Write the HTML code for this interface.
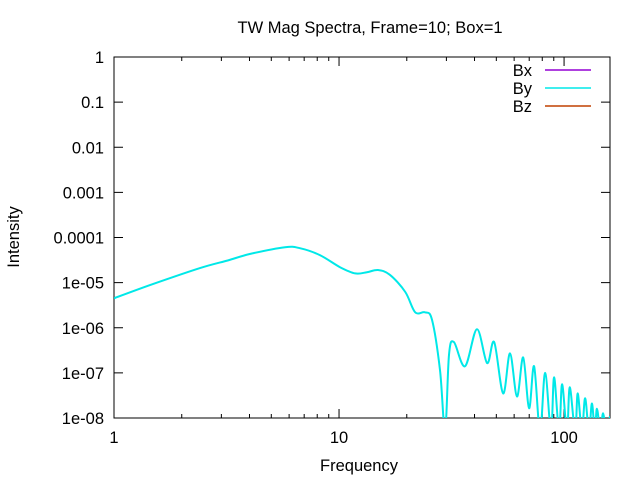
<!DOCTYPE html>
<html><head><meta charset="utf-8"><style>
body{margin:0;background:#fff}
svg text{font-family:"Liberation Sans",sans-serif;font-size:16.5px;fill:#000}
</style></head><body>
<svg id="chart" width="640" height="480" xmlns="http://www.w3.org/2000/svg">
<defs><clipPath id="clip"><rect x="114" y="57" width="496" height="361"/></clipPath></defs>
<text x="370" y="33" text-anchor="middle">TW Mag Spectra, Frame=10; Box=1</text>
<text transform="translate(19,237) rotate(-90)" text-anchor="middle">Intensity</text>
<text x="359" y="471" text-anchor="middle">Frequency</text>
<g id="axes"></g>
<rect x="114" y="57" width="496" height="361" fill="none" stroke="#000" stroke-width="1"/>
<g id="series" clip-path="url(#clip)"></g>
<g>
<text x="532" y="76" text-anchor="end">Bx</text>
<line x1="545" y1="70" x2="591" y2="70" stroke="#9400d3" stroke-width="1.5"/>
<text x="532" y="94" text-anchor="end">By</text>
<line x1="545" y1="88" x2="591" y2="88" stroke="#00e8e8" stroke-width="1.5"/>
<text x="532" y="112" text-anchor="end">Bz</text>
<line x1="545" y1="106" x2="591" y2="106" stroke="#c04000" stroke-width="1.5"/>
</g>
</svg>
<script>
const freq = [1,1.445,2.41,3.2,4.01,5.75,6.7,8.2,10.1,11.8,13.3,14.9,16.8,19.7,21.8,24.1,25.9,28.1,29.6,30.8,32.4,36.3,41.0,45.5,48.9,53.6,57.5,61.8,65.8,69.9,73.6,78.2,82.4,87.5,90.3,95,98,103,106,112,115,120,124,129,133,137,140,145,149,154,160];
const byVals = [4.5e-6,8.8e-6,2.1e-5,3.1e-5,4.3e-5,6.1e-5,5.8e-5,4.1e-5,2.2e-5,1.6e-5,1.7e-5,1.9e-5,1.5e-5,6.2e-6,2.2e-6,2.2e-6,1.5e-6,1.15e-7,5e-9,2.5e-7,4.8e-7,1.4e-7,9.3e-7,1.65e-7,4.8e-7,3.5e-8,2.7e-7,3.0e-8,2.2e-7,1.65e-8,1.4e-7,5e-9,1.0e-7,5e-9,8.0e-8,5e-9,5.6e-8,5e-9,4.8e-8,5e-9,3.5e-8,5e-9,2.75e-8,5e-9,2.1e-8,5e-9,1.6e-8,5e-9,1.28e-8,5e-9,1.1e-8];
const yTickVals = [1,0.1,0.01,0.001,0.0001,1e-5,1e-6,1e-7,1e-8];
const yTickLabels = ["1","0.1","0.01","0.001","0.0001","1e-05","1e-06","1e-07","1e-08"];
const xTickVals = [1,10,100];
const xTickLabels = ["1","10","100"];

const L=114,R=610,T=57,B=418;
const xMin=0, xMax=Math.log10(160);
const X=v=>L+(Math.log10(v)-xMin)/(xMax-xMin)*(R-L);
const Y=v=>T+(0-Math.log10(v))/8*(B-T);
const NS="http://www.w3.org/2000/svg";
const axes=document.getElementById('axes');
function mk(tag,attrs,parent){const e=document.createElementNS(NS,tag);for(const k in attrs)e.setAttribute(k,attrs[k]);parent.appendChild(e);return e;}
yTickVals.forEach((v,i)=>{
  const y=Y(v);
  const t=mk('line',{x1:L,y1:y,x2:L+9,y2:y,stroke:'#000'},axes);
  
  
  const t2=mk('line',{x1:R,y1:y,x2:R-9,y2:y,stroke:'#000'},axes);
  
  
  const tx=mk('text',{x:L-10,y:y+6,'text-anchor':'end'},axes);
  tx.textContent=yTickLabels[i];
  
  
});
for(let d=0;d<3;d++){for(let m=1;m<10;m++){
  const v=Math.pow(10,d)*m; if(v>160)break;
  const x=X(v); const len=m===1?9:4;
  const a=mk('line',{x1:x,y1:B,x2:x,y2:B-len,stroke:'#000'},axes);
  
  
  const b=mk('line',{x1:x,y1:T,x2:x,y2:T+len,stroke:'#000'},axes);
  
  
}}
xTickVals.forEach((v,i)=>{
  const tx=mk('text',{x:X(v),y:B+25,'text-anchor':'middle'},axes);
  tx.textContent=xTickLabels[i];
  
  
});
// smooth curve (Catmull-Rom) through data points in screen space
const pts=freq.map((f,i)=>[X(f),Y(byVals[i])]);
let d='M'+pts[0][0].toFixed(1)+','+pts[0][1].toFixed(1);
for(let i=0;i<pts.length-1;i++){
  const p0=pts[Math.max(i-1,0)],p1=pts[i],p2=pts[i+1],p3=pts[Math.min(i+2,pts.length-1)];
  const k=1/6;
  const c1=[p1[0]+(p2[0]-p0[0])*k,p1[1]+(p2[1]-p0[1])*k];
  const c2=[p2[0]-(p3[0]-p1[0])*k,p2[1]-(p3[1]-p1[1])*k];
  d+=' C'+c1[0].toFixed(1)+','+c1[1].toFixed(1)+' '+c2[0].toFixed(1)+','+c2[1].toFixed(1)+' '+p2[0].toFixed(1)+','+p2[1].toFixed(1);
}
const p=mk('path',{d:d,fill:'none',stroke:'#00e8e8','stroke-width':2,'stroke-linejoin':'round'},document.getElementById('series'));


</script>
</body></html>
